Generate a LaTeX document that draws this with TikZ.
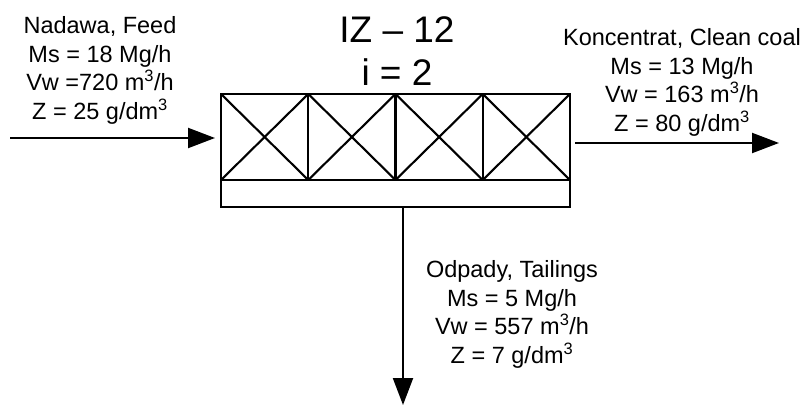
\documentclass[tikz,border=0pt]{standalone}
\usepackage{fontspec}
\setmainfont{Liberation Sans}
\usetikzlibrary{arrows.meta}

\begin{document}
\begin{tikzpicture}[x=1pt,y=-1pt,
    flow/.style={line width=2.1pt,-{Triangle[length=27pt,width=20pt]}},
    body/.style={draw,line width=2.1pt,inner sep=0pt,outer sep=0pt,minimum width=349pt},
    stream/.style={align=center,anchor=north,inner sep=0pt,
        font=\fontsize{23.5}{28.8}\selectfont},
    unittitle/.style={anchor=base,inner sep=0pt,font=\fontsize{37}{40}\selectfont}]

\useasboundingbox (0,0) rectangle (806,406);

% separator body
\node[body,minimum height=86pt,anchor=north west] (cells) at (221,94) {};
\node[body,minimum height=27pt,anchor=north] (strip) at (cells.south) {};

\foreach \i in {0,...,3} {
    \draw[line width=2.1pt] (221+\i*87.25,94) -- ++(87.25,86);
    \draw[line width=2.1pt] (221+\i*87.25,180) -- ++(87.25,-86);
    \draw[line width=2.1pt] (221+\i*87.25,94) -- ++(0,86);
}

\node[unittitle] (unitname) at (397,43) {IZ – 12};
\node[unittitle] (unitno) at (397,86) {i = 2};

% streams
\coordinate (feedin) at (10,138);
\coordinate (cleanout) at (779,143);
\coordinate (tailout) at (403,405);

\draw[flow,shorten >=6pt] (feedin) -- (feedin -| cells.west);
\draw[flow,shorten <=5pt] (cells.east |- cleanout) -- (cleanout);
\draw[flow] (strip.south -| tailout) -- (tailout);

\node[stream] (feed) at (100,16)
{Nadawa, Feed\\
 Ms = 18 Mg/h\\
 Vw =720 m\textsuperscript{3}/h\\
 Z = 25 g/dm\textsuperscript{3}};

\node[stream] (clean) at (682,28)
{Koncentrat, Clean coal\\
 Ms = 13 Mg/h\\
 Vw = 163 m\textsuperscript{3}/h\\
 Z = 80 g/dm\textsuperscript{3}};

\node[stream] (tails) at (512,260)
{Odpady, Tailings\\
 Ms = 5 Mg/h\\
 Vw = 557 m\textsuperscript{3}/h\\
 Z = 7 g/dm\textsuperscript{3}};

\end{tikzpicture}
\end{document}
